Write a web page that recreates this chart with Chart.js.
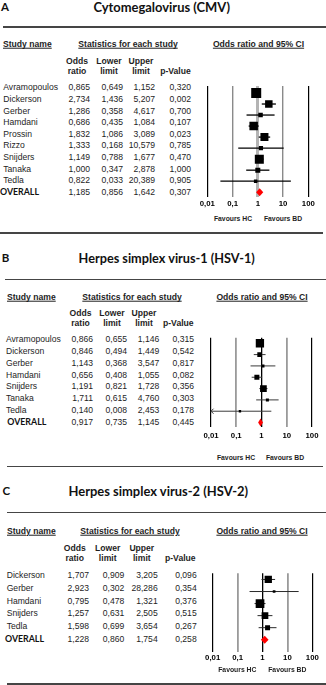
<!DOCTYPE html>
<html><head><meta charset="utf-8">
<script src="https://cdn.jsdelivr.net/npm/chart.js@4.4.1/dist/chart.umd.min.js"></script>
<style>
html,body{margin:0;padding:0;background:#fff;}
#root{position:relative;width:326px;height:685px;overflow:hidden;background:#fff;}
.t{position:absolute;white-space:nowrap;line-height:1;color:#1e1e1e;font-family:"Liberation Sans",Arial,sans-serif;font-size:8.6px;}
.b{font-weight:bold;}
.u{text-decoration:underline;}
.cal{font-family:Lato,"Open Sans",sans-serif;font-weight:700;color:#111;}
.hl{position:absolute;height:1.3px;background:#454545;}
canvas{position:absolute;}
</style></head><body><div id="root"></div>
<script>
// ---------- data ----------
const tickValues = [0.01, 0.1, 1, 10, 100];
const tickLabels = ['0,01', '0,1', '1', '10', '100'];
const columnHeads = [['Odds', 'ratio'], ['Lower', 'limit'], ['Upper', 'limit'], ['', 'p-Value']];

const cmvStudies = ['Avramopoulos', 'Dickerson', 'Gerber', 'Hamdani', 'Prossin', 'Rizzo', 'Snijders', 'Tanaka', 'Tedla', 'OVERALL'];
const cmvOR    = [0.865, 2.734, 1.286, 0.686, 1.832, 1.333, 1.149, 1.000, 0.822, 1.185];
const cmvLower = [0.649, 1.436, 0.358, 0.435, 1.086, 0.168, 0.788, 0.347, 0.033, 0.856];
const cmvUpper = [1.152, 5.207, 4.617, 1.084, 3.089, 10.579, 1.677, 2.878, 20.389, 1.642];
const cmvP     = [0.320, 0.002, 0.700, 0.107, 0.023, 0.785, 0.470, 1.000, 0.905, 0.307];
const cmvWeight = [22.3, 12.5, 4.5, 16.1, 14.3, 3.9, 18.1, 5.6, 2.7];

const hsv1Studies = ['Avramopoulos', 'Dickerson', 'Gerber', 'Hamdani', 'Snijders', 'Tanaka', 'Tedla', 'OVERALL'];
const hsv1OR    = [0.866, 0.846, 1.143, 0.656, 1.191, 1.711, 0.140, 0.917];
const hsv1Lower = [0.655, 0.494, 0.368, 0.408, 0.821, 0.615, 0.008, 0.735];
const hsv1Upper = [1.146, 1.449, 3.547, 1.055, 1.728, 4.760, 2.453, 1.145];
const hsv1P     = [0.315, 0.542, 0.817, 0.082, 0.356, 0.303, 0.178, 0.445];
const hsv1Weight = [37.3, 12.0, 4.9, 13.5, 24.3, 4.9, 3.1];

const hsv2Studies = ['Dickerson', 'Gerber', 'Hamdani', 'Snijders', 'Tedla', 'OVERALL'];
const hsv2OR    = [1.707, 2.923, 0.795, 1.257, 1.598, 1.228];
const hsv2Lower = [0.909, 0.302, 0.478, 0.631, 0.699, 0.860];
const hsv2Upper = [3.205, 28.286, 1.321, 2.505, 3.654, 1.754];
const hsv2P     = [0.096, 0.354, 0.376, 0.515, 0.267, 0.258];
const hsv2Weight = [25.8, 3.5, 36.7, 21.8, 12.1];

const panelLetters = ['A', 'B', 'C'];
const panelTitles = ['Cytomegalovirus (CMV)', 'Herpes simplex virus-1 (HSV-1)', 'Herpes simplex virus-2 (HSV-2)'];
const headStudy = 'Study name', headStats = 'Statistics for each study', headPlot = 'Odds ratio and 95% CI';
const favLeft = 'Favours HC', favRight = 'Favours BD';

// ---------- layout (positions / styles) ----------
const layouts = [
  { letter:[1,6.8], title:[161.7,7.4,136.7], lines:[[3.3,326,27]], headY:44.3, studyX:3, statsCx:128, plotCx:258.5,
    colY:[61,70.7], colCx:[77,109,141,175.5], numR:[90,123,155,191], nameX:3.3, overallX:0,
    x0:207.3, x1:308.3, top:80, bottom:196.7, y0:87.3, dy:11.63, tickPad:2.6, favY:219, favHC:233, favBD:283,
    gridColors:['#000','#8a8a8a','#b4b4b4','#8a8a8a','#000'], gridWidths:[1.2,1.4,3,1.4,1.2], ciColor:'#000', ciWidth:1.3, maxSide:10 },
  { letter:[1.7,258.4], title:[166.7,258.3,176.7], lines:[[0,323,233],[5,326,279.7]], headY:297.3, studyX:7, statsCx:132, plotCx:262,
    colY:[313,323], colCx:[80.5,112,144,178.3], numR:[93,127,159.3,194], nameX:6, overallX:7.3,
    x0:211, x1:312, top:333, bottom:427.3, y0:338.7, dy:11.94, tickPad:4, favY:458, favHC:236, favBD:285,
    gridColors:['#000','#9a9a9a','#000','#9a9a9a','#000'], gridWidths:[1.2,1.8,1.3,1.8,1.2], ciColor:'#3a3a3a', ciWidth:1, maxSide:8.3 },
  { letter:[2.5,491], title:[158.3,491,180], lines:[[7,323,466.7],[7,326,512.7],[7,326,684]], headY:531, studyX:7, statsCx:130, plotCx:262,
    colY:[548.3,558.3], colCx:[74.7,107.7,141.8,180.3], numR:[89,124.3,157.7,196.7], nameX:6.7, overallX:5,
    x0:212.7, x1:312.3, top:568.3, bottom:651.7, y0:575, dy:12.8, tickPad:1.2, favY:670, favHC:237.3, favBD:287.3,
    gridColors:['#000','#9a9a9a','#000','#9a9a9a','#000'], gridWidths:[1.2,1.8,1.3,1.8,1.2], ciColor:'#2a2a2a', ciWidth:1, maxSide:8.7 }
];

const panels = [
  { studies:cmvStudies, or:cmvOR, lo:cmvLower, hi:cmvUpper, p:cmvP, w:cmvWeight },
  { studies:hsv1Studies, or:hsv1OR, lo:hsv1Lower, hi:hsv1Upper, p:hsv1P, w:hsv1Weight },
  { studies:hsv2Studies, or:hsv2OR, lo:hsv2Lower, hi:hsv2Upper, p:hsv2P, w:hsv2Weight }
];

// ---------- helpers ----------
const root = document.getElementById('root');
const mctx = document.createElement('canvas').getContext('2d');
function fitSize(text, font, target) {
  mctx.font = '700 100px ' + font;
  return 100 * target / mctx.measureText(text).width;
}
function txt(text, x, y, align, cls, style) {
  const d = document.createElement('div');
  d.className = 't ' + (cls || '');
  d.textContent = text;
  d.style.left = x + 'px';
  d.style.top = y + 'px';
  const tx = align === 'right' ? '-100%' : align === 'center' ? '-50%' : '0';
  d.style.transform = 'translate(' + tx + ',-50%)';
  if (style) Object.assign(d.style, style);
  root.appendChild(d);
  return d;
}
function hline(x0, x1, y) {
  const d = document.createElement('div');
  d.className = 'hl';
  d.style.left = x0 + 'px'; d.style.width = (x1 - x0) + 'px'; d.style.top = (y - 0.65) + 'px';
  root.appendChild(d);
}
const fmt = v => v.toFixed(3).replace('.', ',');

const forestPlugin = {
  id: 'forest',
  beforeDatasetsDraw(chart, args, opts) {
    const { ctx, chartArea, scales: { x, y } } = chart;
    const P = opts.panel, L = opts.layout;
    const n = P.or.length - 1;
    ctx.save();
    ctx.strokeStyle = L.ciColor; ctx.lineWidth = L.ciWidth;
    for (let i = 0; i < n; i++) {
      const lo = Math.max(P.lo[i], x.min), hi = Math.min(P.hi[i], x.max);
      const xl = x.getPixelForValue(lo), xh = x.getPixelForValue(hi), yy = y.getPixelForValue(i);
      ctx.beginPath(); ctx.moveTo(xl, yy); ctx.lineTo(xh, yy); ctx.stroke();
      if (P.lo[i] < x.min) {
        ctx.beginPath(); ctx.moveTo(xl + 2.5, yy - 2.5); ctx.lineTo(xl, yy); ctx.lineTo(xl + 2.5, yy + 2.5); ctx.stroke();
      }
    }
    const xl = x.getPixelForValue(P.lo[n]), xm = x.getPixelForValue(P.or[n]), xh = x.getPixelForValue(P.hi[n]);
    const yy = y.getPixelForValue(n), h = 4;
    ctx.fillStyle = '#ff0000';
    ctx.beginPath(); ctx.moveTo(xl, yy); ctx.lineTo(xm, yy - h); ctx.lineTo(xh, yy); ctx.lineTo(xm, yy + h); ctx.closePath(); ctx.fill();
    ctx.restore();
  }
};

function makeChart(P, L) {
  const cv = document.createElement('canvas');
  const left = 190, right = 326, axisH = 14;
  const top = Math.floor(L.top) - 1;
  const height = Math.ceil(L.bottom - top + axisH);
  cv.width = right - left; cv.height = height;
  cv.style.left = left + 'px'; cv.style.top = top + 'px';
  cv.style.width = (right - left) + 'px'; cv.style.height = height + 'px';
  root.appendChild(cv);
  const n = P.or.length - 1;
  const wMax = Math.max(...P.w);
  const pts = [], radii = [];
  for (let i = 0; i < n; i++) {
    pts.push({ x: P.or[i], y: i });
    radii.push(L.maxSide * Math.sqrt(P.w[i] / wMax) / Math.SQRT2);
  }
  new Chart(cv, {
    type: 'scatter',
    data: { datasets: [{ data: pts, pointStyle: 'rect', pointRadius: radii, pointHoverRadius: radii,
      backgroundColor: '#000', borderWidth: 0 }] },
    options: {
      responsive: false, animation: false, events: [],
      layout: { padding: { left: L.x0 - left, right: right - L.x1, top: L.top - top, bottom: height - axisH - (L.bottom - top) } },
      plugins: { legend: { display: false }, tooltip: { enabled: false }, forest: { panel: P, layout: L } },
      scales: {
        x: {
          type: 'logarithmic', min: tickValues[0], max: tickValues[tickValues.length - 1], position: 'bottom',
          afterBuildTicks: s => { s.ticks = tickValues.map(v => ({ value: v })); },
          afterFit: s => { s.paddingLeft = 0; s.paddingRight = 0; s.height = axisH; },
          ticks: { autoSkip: false, maxRotation: 0, minRotation: 0, padding: L.tickPad, color: '#000',
            font: { family: '"Liberation Sans", Arial, sans-serif', size: 7.8, weight: 'bold' },
            callback: (v, i) => tickLabels[i] },
          grid: { drawTicks: false, color: c => L.gridColors[c.index], lineWidth: c => L.gridWidths[c.index] },
          border: { display: false }
        },
        y: { type: 'linear', display: false, reverse: true,
          min: (L.top - L.y0) / L.dy, max: (L.bottom - L.y0) / L.dy }
      }
    },
    plugins: [forestPlugin]
  });
}

// ---------- build ----------
panels.forEach((P, k) => {
  const L = layouts[k];
  L.lines.forEach(l => hline(l[0], l[1], l[2]));
  txt(panelLetters[k], L.letter[0], L.letter[1], 'left', 'cal', { fontSize: '11.5px' });
  txt(panelTitles[k], L.title[0], L.title[1], 'center', 'cal',
      { fontSize: fitSize(panelTitles[k], 'Lato', L.title[2]) + 'px' });
  txt(headStudy, L.studyX, L.headY, 'left', 'b u');
  txt(headStats, L.statsCx, L.headY, 'center', 'b u');
  txt(headPlot, L.plotCx, L.headY, 'center', 'b u');
  columnHeads.forEach((h, c) => {
    if (h[0]) txt(h[0], L.colCx[c], L.colY[0], 'center', 'b');
    txt(h[1], L.colCx[c], L.colY[1], 'center', 'b');
  });
  const n = P.or.length - 1;
  P.studies.forEach((s, i) => {
    const y = L.y0 + i * L.dy;
    if (i < n) txt(s, L.nameX, y, 'left', '');
    else txt(s, L.overallX, y, 'left', 'cal', { fontSize: fitSize(s, 'Lato', 39) + 'px', color: '#111' });
    [P.or[i], P.lo[i], P.hi[i], P.p[i]].forEach((v, c) => txt(fmt(v), L.numR[c], y, 'right', ''));
  });
  makeChart(P, L);
  txt(favLeft, L.favHC, L.favY, 'center', 'b', { fontSize: '6.8px' });
  txt(favRight, L.favBD, L.favY, 'center', 'b', { fontSize: '6.8px' });
});
</script>
</body></html>
